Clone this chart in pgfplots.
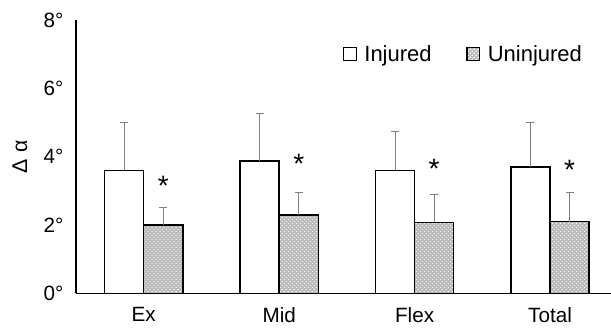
\documentclass[border=0pt]{standalone}
\usepackage{fontspec}
\setmainfont{Liberation Sans}
\usepackage{pgfplots}
\usepackage{pgfplotstable}
\pgfplotsset{compat=1.18}
\usetikzlibrary{patterns}

\pgfplotstableread{
x inj injerr un unerr
0 3.60 1.40 2.00 0.52
1 3.88 1.40 2.29 0.67
2 3.60 1.15 2.08 0.82
3 3.70 1.30 2.10 0.86
}\data

\begin{document}
\begin{tikzpicture}
\begin{axis}[
  scale only axis,
  width=401pt, height=205pt,
  xmin=-0.5, xmax=3.45, ymin=0, ymax=8,
  axis lines*=left,
  axis line style={line width=1.4pt},
  major tick length=0pt,
  ytick={0,2,4,6,8},
  yticklabels={0°,2°,4°,6°,8°},
  xtick={0,1,2,3},
  xticklabels={Ex,Mid,Flex,Total},
  ticklabel style={font=\fontsize{15.5}{17}\selectfont},
  xticklabel style={inner sep=0pt, anchor=north, yshift=-10pt, font=\fontsize{15.5}{17}\selectfont},
  yticklabel style={xshift=-6pt},
  ylabel={Δ α},
  ylabel style={font=\fontsize{16}{18}\selectfont, at={(rel axis cs:-0.105,0.5)}, anchor=center},
  ybar, bar width=0.289,
  legend style={at={(rel axis cs:0.491,0.875)}, anchor=west, draw=none, fill=none,
    legend columns=2, font=\fontsize{16.5}{18}\selectfont,
    /tikz/every even column/.append style={column sep=24pt}},
]
\addplot[draw=black, line width=1.1pt, fill=white, bar shift=-0.1445,
  legend image code/.code={\draw[draw=black, fill=white, line width=1pt] (0pt,-4.8pt) rectangle (9.5pt,4.8pt); \path (13pt,0pt);},
  error bars/.cd, y dir=plus, y explicit,
  error bar style={gray, line width=0.7pt},
  error mark options={rotate=90, mark size=3pt, gray, line width=0.7pt}]
  table[x=x, y=inj, y error=injerr] {\data};
\addlegendentry{Injured}
\addplot[draw=black, line width=1.1pt, fill=gray!55,
  postaction={pattern=crosshatch dots, pattern color=white},
  bar shift=0.1445,
  legend image code/.code={\draw[draw=black, fill=gray!55, line width=1pt, postaction={pattern=crosshatch dots, pattern color=white}] (0pt,-4.8pt) rectangle (9.5pt,4.8pt); \path (13pt,0pt);},
  error bars/.cd, y dir=plus, y explicit,
  error bar style={gray, line width=0.7pt},
  error mark options={rotate=90, mark size=3pt, gray, line width=0.7pt}]
  table[x=x, y=un, y error=unerr] {\data};
\addlegendentry{Uninjured}
\node[font=\fontsize{21}{22}\selectfont, yshift=-5pt] at (axis cs:0.1445,3.35) {*};
\node[font=\fontsize{21}{22}\selectfont, yshift=-5pt] at (axis cs:1.1445,4.00) {*};
\node[font=\fontsize{21}{22}\selectfont, yshift=-5pt] at (axis cs:2.1445,3.84) {*};
\node[font=\fontsize{21}{22}\selectfont, yshift=-5pt] at (axis cs:3.1445,3.80) {*};
\end{axis}
\pgfresetboundingbox
\path (current axis.south west) ++(-57pt,-25.5pt) coordinate (bl);
\path (current axis.north east) ++(0pt,15pt) coordinate (tr);
\path (bl) rectangle (tr);
\end{tikzpicture}
\end{document}
